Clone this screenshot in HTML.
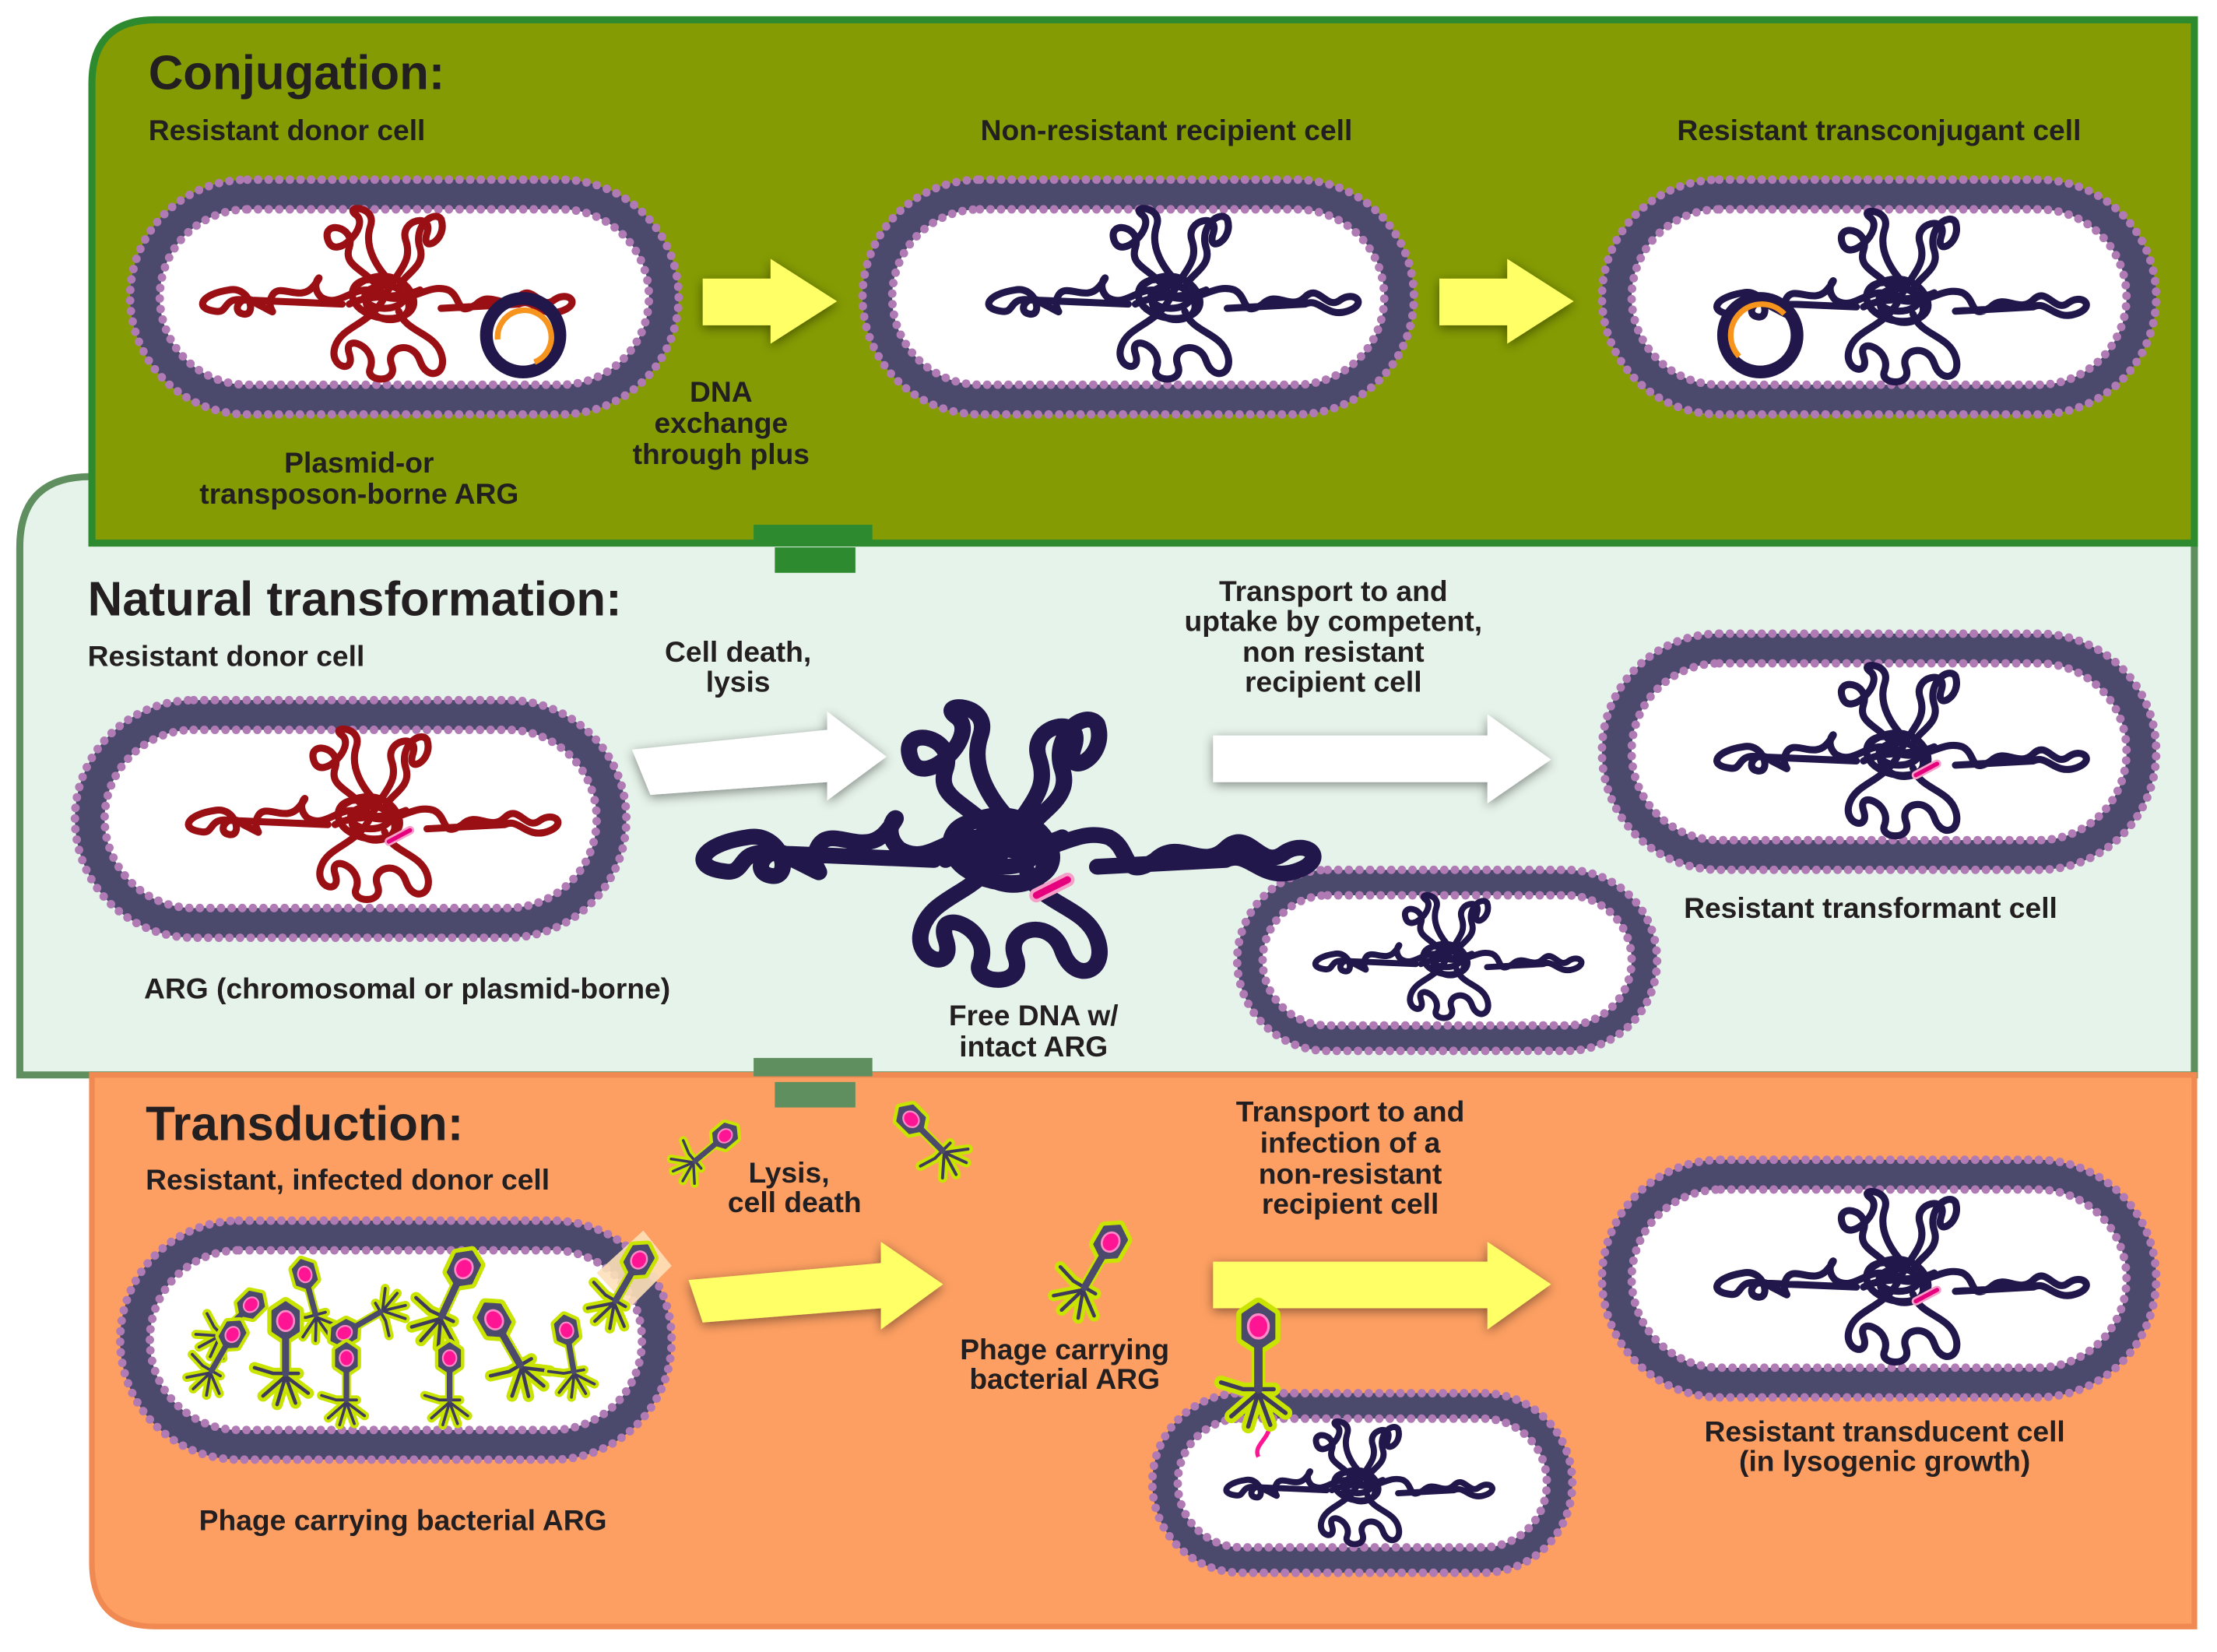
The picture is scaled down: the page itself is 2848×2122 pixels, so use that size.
<!DOCTYPE html>
<html><head><meta charset="utf-8">
<style>
html,body{margin:0;padding:0;background:#fff;}
svg{display:block;}
text{font-family:"Liberation Sans",sans-serif;font-weight:bold;fill:#231f20;}
</style></head>
<body>
<svg width="2848" height="2122" viewBox="0 0 1568 1168" preserveAspectRatio="none" xmlns="http://www.w3.org/2000/svg">
<defs>
<filter id="sh" x="-20%" y="-30%" width="140%" height="160%"><feDropShadow dx="0" dy="2" stdDeviation="4" flood-color="#000" flood-opacity="0.45"/></filter>
<g id="tangle" fill="none" stroke-linecap="round" stroke-linejoin="round">
<path d="M0,0 C-20,-15 -30,10 -45,0 C-55,-10 -40,-20 -50,-8 C-60,5 -75,-12 -80,0 C-85,10 -70,15 -90,5 C-100,-5 -110,10 -100,12 C-90,14 -95,-8 -110,-5 C-130,-2 -135,8 -120,10 C-110,12 -115,0 -100,2 L-30,5"/>
<path d="M0,0 C-10,-20 -30,-20 -25,-35 C-20,-50 -45,-55 -40,-40 C-35,-25 -10,-50 -20,-58 C-30,-65 -5,-65 -10,-50 C-15,-35 -5,-20 5,-10"/>
<path d="M0,0 C10,-20 20,-25 15,-40 C10,-55 35,-60 30,-45 C25,-30 45,-40 40,-55 C35,-62 20,-50 25,-35 C30,-20 10,-15 10,-5"/>
<path d="M0,0 C20,5 30,-10 45,-5 C55,0 50,15 65,5 C75,-5 85,10 95,0 C105,-10 110,10 120,2 C130,-5 140,5 125,10 C110,15 105,0 95,5 L40,8"/>
<path d="M0,0 C-10,20 -30,20 -35,35 C-40,50 -20,55 -25,40 C-30,25 -5,35 -10,50 C-15,60 10,62 5,48 C0,35 20,30 25,45 C30,60 45,55 40,40 C35,25 15,25 10,10"/>
<path d="M-20,-8 C-5,-20 15,-15 20,0 C25,15 0,20 -15,10 C-28,2 -25,-15 -5,-12 C15,-8 25,10 10,15 C-5,20 -20,5 -10,-5 M-25,5 C-10,-3 10,2 25,-5"/>
<ellipse cx="0" cy="0" rx="14" ry="8"/>
</g>
<g id="phage" stroke-linecap="round" stroke-linejoin="round">
<g stroke="#c8e400" stroke-width="8" fill="#c8e400">
<polygon points="0,-44 9,-38 9,-24 0,-18 -9,-24 -9,-38"/>
<path d="M0,-20 L0,8 M-9,6 L9,6 M0,8 L-16,22 M0,8 L16,20 M0,8 L-6,28 M0,8 L7,27 M-9,6 L-22,2"/>
</g>
<polygon points="0,-44 9,-38 9,-24 0,-18 -9,-24 -9,-38" fill="#4b4a6c" stroke="#4b4a6c" stroke-width="2"/>
<path d="M0,-20 L0,8 M-9,6 L9,6 M0,8 L-16,22 M0,8 L16,20 M0,8 L-6,28 M0,8 L7,27 M-9,6 L-22,2" stroke="#3d3a5c" stroke-width="2.5" fill="none"/>
<path d="M0,-20 L0,6" stroke="#4b4a6c" stroke-width="5"/>
<ellipse cx="0" cy="-31" rx="6" ry="7" fill="#ff1493" stroke="#ff8ac8" stroke-width="1.5"/>
</g>
</defs>

<path d="M14,760 L14,387 Q14,337 64,337 L1552,337 L1552,760 Z" fill="#e6f3ea" stroke="#5f8f5f" stroke-width="5"/>
<path d="M65,384 L65,59 Q65,14 110,14 L1552,14 L1552,384 Z" fill="#849b03" stroke="#2e8a2e" stroke-width="5"/>
<path d="M65,760 L1552,760 L1552,1150 L110,1150 Q65,1150 65,1105 Z" fill="#fd9f62" stroke="#f08a52" stroke-width="4"/>
<rect x="533" y="371" width="84" height="13" fill="#2e8a2e"/>
<rect x="548" y="387" width="57" height="18" fill="#2e8a2e"/>
<rect x="533" y="748" width="84" height="13" fill="#5f8f5f"/>
<rect x="548" y="765" width="57" height="18" fill="#5f8f5f"/>

<g stroke="#b07ab4" stroke-width="6" stroke-dasharray="0 7.5" stroke-linecap="round">
<rect x="92" y="127" width="388" height="166" rx="83" fill="#4b4a6c"/>
<rect x="113" y="148" width="346" height="124" rx="62" fill="#fff"/>
<rect x="610" y="127" width="390" height="166" rx="83" fill="#4b4a6c"/>
<rect x="631" y="148" width="348" height="124" rx="62" fill="#fff"/>
<rect x="1133" y="127" width="392" height="166" rx="83" fill="#4b4a6c"/>
<rect x="1154" y="148" width="350" height="124" rx="62" fill="#fff"/>
<rect x="53" y="495" width="390" height="168" rx="84" fill="#4b4a6c"/>
<rect x="74" y="516" width="348" height="126" rx="63" fill="#fff"/>
<rect x="1133" y="448" width="392" height="167" rx="83" fill="#4b4a6c"/>
<rect x="1154" y="469" width="350" height="125" rx="62" fill="#fff"/>
<rect x="875" y="615" width="297" height="128" rx="64" fill="#4b4a6c"/>
<rect x="893" y="633" width="261" height="92" rx="46" fill="#fff"/>
<rect x="85" y="863" width="390" height="169" rx="84" fill="#4b4a6c"/>
<rect x="106" y="884" width="348" height="127" rx="63" fill="#fff"/>
<rect x="1133" y="820" width="392" height="168" rx="84" fill="#4b4a6c"/>
<rect x="1154" y="841" width="350" height="126" rx="63" fill="#fff"/>
<rect x="815" y="985" width="297" height="127" rx="63" fill="#4b4a6c"/>
<rect x="833" y="1003" width="261" height="91" rx="45" fill="#fff"/>
</g>

<use href="#tangle" transform="translate(272,210)" stroke="#990f14" stroke-width="5"/>
<use href="#tangle" transform="translate(828,210)" stroke="#22174a" stroke-width="5"/>
<use href="#tangle" transform="translate(1343,212)" stroke="#22174a" stroke-width="5"/>
<use href="#tangle" transform="translate(262,578)" stroke="#990f14" stroke-width="5"/>
<use href="#tangle" transform="translate(1343,533)" stroke="#22174a" stroke-width="5"/>
<use href="#tangle" transform="translate(1023,678) scale(0.72)" stroke="#22174a" stroke-width="6"/>
<use href="#tangle" transform="translate(710,600) scale(1.65,1.6)" stroke="#22174a" stroke-width="7"/>
<use href="#tangle" transform="translate(1343,905)" stroke="#22174a" stroke-width="5"/>
<use href="#tangle" transform="translate(960,1050) scale(0.72)" stroke="#22174a" stroke-width="6"/>

<g stroke-linecap="round">
<line x1="275" y1="595" x2="290" y2="587" stroke="#f5a0c8" stroke-width="6"/>
<line x1="275" y1="595" x2="290" y2="587" stroke="#e6007e" stroke-width="3"/>
<line x1="733" y1="633" x2="755" y2="622" stroke="#f5a0c8" stroke-width="10"/>
<line x1="733" y1="633" x2="755" y2="622" stroke="#e6007e" stroke-width="5"/>
<line x1="1355" y1="548" x2="1370" y2="540" stroke="#f5a0c8" stroke-width="6"/>
<line x1="1355" y1="548" x2="1370" y2="540" stroke="#e6007e" stroke-width="3"/>
<line x1="1355" y1="920" x2="1370" y2="912" stroke="#f5a0c8" stroke-width="6"/>
<line x1="1355" y1="920" x2="1370" y2="912" stroke="#e6007e" stroke-width="3"/>
</g>

<circle cx="370" cy="237" r="26" fill="none" stroke="#22174a" stroke-width="9"/>
<path d="M352,240 A19,19 0 1 1 378,256" fill="none" stroke="#f7941d" stroke-width="4"/>
<circle cx="1245" cy="237" r="26" fill="none" stroke="#22174a" stroke-width="9"/>
<path d="M1230,252 A19,19 0 0 1 1262,222" fill="none" stroke="#f7941d" stroke-width="4"/>

<g filter="url(#sh)">
<polygon points="497,197 545,197 545,183 592,213 545,243 545,230 497,230" fill="#ffff66"/>
<polygon points="1018,197 1066,197 1066,183 1113,213 1066,243 1066,230 1018,230" fill="#ffff66"/>
<polygon points="447,530 585,516 585,503 627,535 585,566 585,553 460,562" fill="#ffffff"/>
<polygon points="858,520 1052,520 1052,505 1097,537 1052,568 1052,553 858,553" fill="#ffffff"/>
<polygon points="487,905 623,893 623,878 667,908 623,940 623,925 497,935" fill="#ffff66"/>
<polygon points="858,892 1052,892 1052,878 1097,908 1052,940 1052,925 858,925" fill="#ffff66"/>
</g>

<polygon points="422,900 455,870 475,895 445,925" fill="#fde0b8" opacity="0.9"/>
<use href="#phage" transform="translate(160,940) rotate(45) scale(0.8)"/>
<use href="#phage" transform="translate(152,965) rotate(30) scale(0.8)"/>
<use href="#phage" transform="translate(222,925) rotate(-15) scale(0.8)"/>
<use href="#phage" transform="translate(202,965) scale(1)"/>
<use href="#phage" transform="translate(265,930) rotate(-120) scale(0.8)"/>
<use href="#phage" transform="translate(315,925) rotate(25) scale(1)"/>
<use href="#phage" transform="translate(245,985) scale(0.8)"/>
<use href="#phage" transform="translate(318,985) scale(0.8)"/>
<use href="#phage" transform="translate(365,960) rotate(-30) scale(1)"/>
<use href="#phage" transform="translate(405,965) rotate(-10) scale(0.8)"/>
<use href="#phage" transform="translate(438,915) rotate(30) scale(0.9)"/>
<use href="#phage" transform="translate(495,818) rotate(50) scale(0.75)"/>
<use href="#phage" transform="translate(663,810) rotate(-45) scale(0.85)"/>
<use href="#phage" transform="translate(770,905) rotate(30) scale(1)"/>
<path d="M890,950 C895,975 885,985 895,1000 C905,1015 885,1020 890,1030" fill="none" stroke="#ff1493" stroke-width="3"/>
<use href="#phage" transform="translate(890,975) scale(1.2)"/>

<text x="105" y="63" font-size="34">Conjugation:</text>
<text x="105" y="99" font-size="20.5">Resistant donor cell</text>
<g font-size="20.5" text-anchor="middle">
<text x="825" y="99">Non-resistant recipient cell</text>
<text x="1329" y="99">Resistant transconjugant cell</text>
<text x="254" y="334">Plasmid-or</text>
<text x="254" y="356">transposon-borne ARG</text>
<text x="510" y="284">DNA</text>
<text x="510" y="306">exchange</text>
<text x="510" y="328">through plus</text>
<text x="522" y="468">Cell death,</text>
<text x="522" y="489">lysis</text>
<text x="943" y="425">Transport to and</text>
<text x="943" y="446">uptake by competent,</text>
<text x="943" y="468">non resistant</text>
<text x="943" y="489">recipient cell</text>
<text x="1323" y="649">Resistant transformant cell</text>
<text x="288" y="706">ARG (chromosomal or plasmid-borne)</text>
<text x="731" y="725">Free DNA w/</text>
<text x="731" y="747">intact ARG</text>
<text x="558" y="836">Lysis,</text>
<text x="562" y="857">cell death</text>
<text x="955" y="793">Transport to and</text>
<text x="955" y="815">infection of a</text>
<text x="955" y="837">non-resistant</text>
<text x="955" y="858">recipient cell</text>
<text x="753" y="961">Phage carrying</text>
<text x="753" y="982">bacterial ARG</text>
<text x="285" y="1082">Phage carrying bacterial ARG</text>
<text x="1333" y="1019">Resistant transducent cell</text>
<text x="1333" y="1040">(in lysogenic growth)</text>
</g>
<text x="62" y="435" font-size="34">Natural transformation:</text>
<text x="62" y="471" font-size="20.5">Resistant donor cell</text>
<text x="103" y="806" font-size="34">Transduction:</text>
<text x="103" y="841" font-size="20.5">Resistant, infected donor cell</text>
</svg>
</body></html>
